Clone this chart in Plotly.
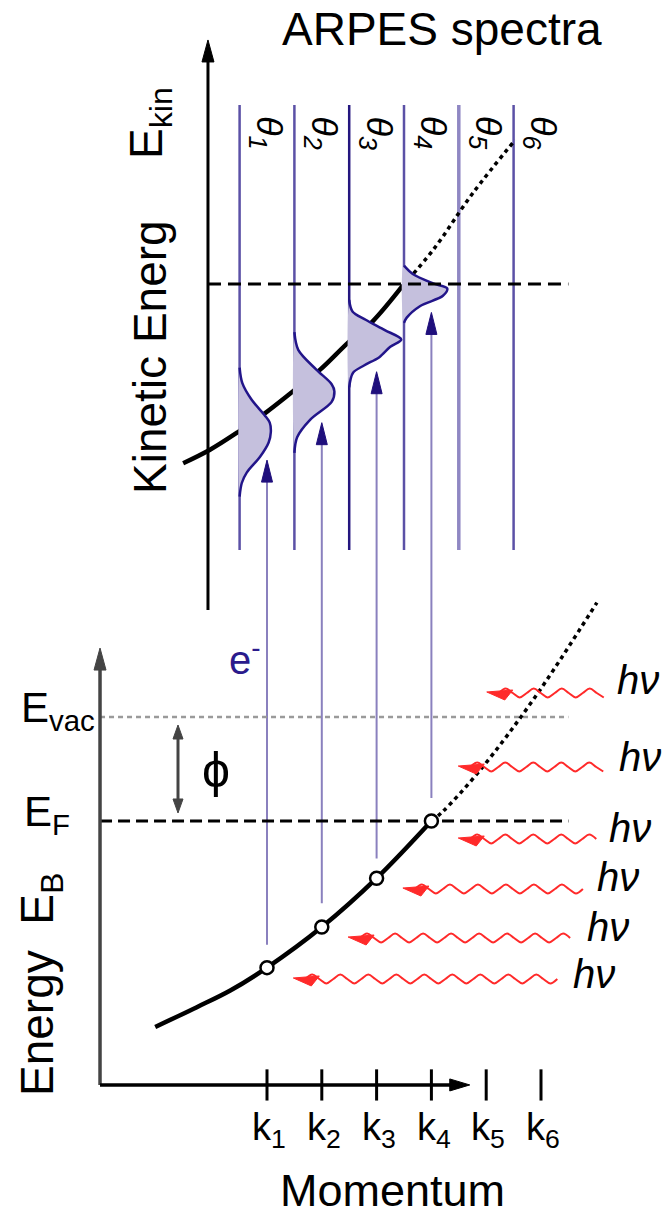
import plotly.graph_objects as go

# ---------------- data (schematic units: momentum k, energy in units of phi, E_F = 0) ----------
k_ticks = [1, 2, 3, 4, 5, 6]
k_labels = ["k<sub>1</sub>", "k<sub>2</sub>", "k<sub>3</sub>", "k<sub>4</sub>", "k<sub>5</sub>", "k<sub>6</sub>"]
theta_labels = ["θ<sub>1</sub>", "θ<sub>2</sub>", "θ<sub>3</sub>", "θ<sub>4</sub>", "θ<sub>5</sub>", "θ<sub>6</sub>"]

E_F = 0.0
E_vac = 1.0
E_F_kin = 5.163          # Fermi level as seen in the kinetic-energy spectra

# band dispersion in the sample (bottom panel)
band_k = [-1.04, -0.28, 0.33, 1.0, 2.0, 3.0, 4.0]
band_E = [-1.98, -1.79, -1.63, -1.41, -1.02, -0.55, 0.0]
band_unocc_k = [4.0, 4.2, 4.89, 5.89, 7.02]
band_unocc_E = [0.0, 0.087, 0.49, 1.19, 2.10]

# measured points k1..k4
meas_k = [1, 2, 3, 4]
meas_E = [-1.41, -1.02, -0.55, 0.0]

# band as mapped into kinetic energy (top panel)
top_band_k = [-0.53, -0.04, 0.47, 0.96, 1.47, 1.97, 2.48, 2.92, 3.48]
top_band_E = [3.44, 3.57, 3.74, 3.92, 4.13, 4.34, 4.60, 4.80, 5.15]
top_unocc_k = [3.48, 4.03, 4.76, 5.53]
top_unocc_E = [5.15, 5.49, 6.04, 6.55]

# spectra (EDC) baselines at each emission angle
spec_x = [0.5, 1.5, 2.5, 3.5, 4.5, 5.5]
spec_E_low, spec_E_high = 2.606, 6.885
spec_colors = ["#5b51a6", "#5b51a6", "#24167f", "#5b51a6", "#8f87c3", "#5b51a6"]
spec_widths = [2.5, 2.5, 2.5, 2.5, 3.5, 2.5]

# peak profiles (energy, intensity) of the four spectra
peak1_E = [4.36, 4.21, 4.05, 3.90, 3.83, 3.74, 3.64, 3.50, 3.35, 3.25, 3.12]
peak1_I = [0, 0.05, 0.22, 0.46, 0.55, 0.57, 0.53, 0.37, 0.13, 0.04, 0]
peak2_E = [4.70, 4.53, 4.34, 4.20, 4.13, 4.03, 3.86, 3.69, 3.54]
peak2_I = [0, 0.07, 0.40, 0.68, 0.73, 0.68, 0.29, 0.05, 0]
peak3_E = [5.01, 4.90, 4.82, 4.72, 4.63, 4.56, 4.46, 4.38, 4.31, 4.17]
peak3_I = [0, 0.06, 0.30, 0.65, 0.95, 0.75, 0.55, 0.27, 0.07, 0]
peak4_E = [5.34, 5.26, 5.17, 5.12, 5.05, 4.95, 4.84, 4.79]
peak4_I = [0, 0.16, 0.53, 0.79, 0.71, 0.29, 0.05, 0]

# photoelectron arrows from k_n up to the spectra
arrow_k = [1, 2, 3, 4]
arrow_start_E = [-1.19, -0.79, -0.36, 0.22]
arrow_tip_E = [3.47, 3.83, 4.32, 4.89]

# incoming photons (h nu)
wave_E = [1.231, 0.519, -0.173, -0.654, -1.125, -1.519]
wave_k_start = [5.01, 4.49, 4.49, 3.48, 2.48, 1.48]
wave_k_end = [7.17, 7.20, 7.02, 6.77, 6.58, 6.38]
hv_k = [7.77, 7.81, 7.62, 7.41, 7.22, 6.97]
hv_E = [1.356, 0.615, -0.067, -0.538, -1.019, -1.471]

# axes of the schematic
ax_bottom_k0, ax_bottom_E0 = -2.047, -2.538
ax_bottom_Etop, ax_bottom_kend = 1.663, 4.70
ax_top_k, ax_top_E0, ax_top_Etop = -0.077, 2.029, 7.51
level_k_end = 6.50

# ---------------- geometry of the canvas ----------------
W, H = 663, 1215
SX, SY = 54.8, 104.0            # px per unit
X0PX, Y0PX = 212.2, 821.0       # pixel of k=0 / E=0
xr = [-X0PX / SX, (W - X0PX) / SX]
yr = [(Y0PX - H) / SY, Y0PX / SY]

FONT = "Liberation Sans, Arial, sans-serif"
fig = go.Figure()


def line(xs, ys, color, width, dash="solid", shape="linear"):
    fig.add_trace(go.Scatter(x=xs, y=ys, mode="lines", hoverinfo="skip", showlegend=False,
                             line=dict(color=color, width=width, dash=dash, shape=shape)))


def head(xt, yt, ux, uy, L, Wd, color):
    # filled triangular arrow head; (ux,uy) screen direction (up positive), L/Wd in px
    bx, by = -ux * L, -uy * L
    px_, py_ = -uy * Wd / 2, ux * Wd / 2
    xs = [xt, xt + (bx + px_) / SX, xt + (bx - px_) / SX, xt]
    ys = [yt, yt + (by + py_) / SY, yt + (by - py_) / SY, yt]
    fig.add_trace(go.Scatter(x=xs, y=ys, mode="lines", fill="toself", fillcolor=color,
                             line=dict(color=color, width=1), hoverinfo="skip", showlegend=False))


def text(x, y, s, size, color="black", angle=0, xanchor="center", yanchor="middle", italic=False):
    fig.add_annotation(x=x, y=y, xref="x", yref="y", text=s, showarrow=False, textangle=angle,
                       xanchor=xanchor, yanchor=yanchor,
                       font=dict(family=FONT, size=size, color=color,
                                 style="italic" if italic else "normal"))


# ---------------- top panel: spectra ----------------
for x, c, w in zip(spec_x, spec_colors, spec_widths):
    line([x, x], [spec_E_low, spec_E_high], c, w)

line(top_band_k, top_band_E, "black", 4.5, shape="spline")
line(top_unocc_k, top_unocc_E, "black", 3.5, dash="4px,4px", shape="spline")

for x0, pE, pI in zip(spec_x[:4], [peak1_E, peak2_E, peak3_E, peak4_E],
                      [peak1_I, peak2_I, peak3_I, peak4_I]):
    xs = [x0 + v for v in pI]
    fig.add_trace(go.Scatter(x=xs + [x0], y=pE + [pE[0]], mode="lines", fill="toself",
                             fillcolor="#c5c0dd", line=dict(width=0, shape="spline", smoothing=0.9),
                             hoverinfo="skip", showlegend=False))
    fig.add_trace(go.Scatter(x=xs, y=pE, mode="lines", hoverinfo="skip", showlegend=False,
                             line=dict(color="#22158a", width=2.5, shape="spline", smoothing=0.9)))

line([ax_top_k, level_k_end], [E_F_kin, E_F_kin], "black", 3, dash="13px,7px")

# top axis
line([ax_top_k, ax_top_k], [ax_top_E0, ax_top_Etop - 0.15], "black", 3)
head(ax_top_k, ax_top_Etop, 0, 1, 22, 12, "black")

# ---------------- photoelectron arrows ----------------
for k, e0, e1 in zip(arrow_k, arrow_start_E, arrow_tip_E):
    line([k, k], [e0, e1 - 0.15], "#8a80be", 2)
    head(k, e1, 0, 1, 22, 11, "#1f0f7c")

# ---------------- bottom panel ----------------
line([ax_bottom_k0, level_k_end], [E_vac, E_vac], "#9a9a9a", 2.5, dash="5px,4px")
line([ax_bottom_k0, level_k_end], [E_F, E_F], "black", 3, dash="12px,6px")

line(band_k, band_E, "black", 4.5, shape="spline")
line(band_unocc_k, band_unocc_E, "black", 3.5, dash="4px,4px", shape="spline")
fig.add_trace(go.Scatter(x=meas_k, y=meas_E, mode="markers", hoverinfo="skip", showlegend=False,
                         marker=dict(size=13, color="white", line=dict(color="black", width=2.5))))

# photons
for e, ks, ke in zip(wave_E, wave_k_start, wave_k_end):
    step = 7.0 / SX   # quarter wavelength
    amp = 4.5 / SY
    xs, ys = [], []
    n = int((ke - ks - 12 / SX) / step)
    for i in range(n + 1):
        xs.append(ks + 12 / SX + i * step)
        ys.append(e + [0, amp, 0, -amp][i % 4])
    line(xs, ys, "#ff2a2a", 2, shape="spline")
    tri_x = [ks, ks + 26 / SX, ks + 18 / SX, ks]
    tri_y = [e + 1 / SY, e + 3 / SY, e - 7 / SY, e + 1 / SY]
    fig.add_trace(go.Scatter(x=tri_x, y=tri_y, mode="lines", fill="toself", fillcolor="#ff2a2a",
                             line=dict(color="#ff2a2a", width=1), hoverinfo="skip", showlegend=False))

# phi double arrow
phi_k = -0.624
line([phi_k, phi_k], [E_F + 0.077 + 0.1, E_vac - 0.077 - 0.1], "#444444", 3)
head(phi_k, E_vac - 0.077, 0, 1, 14, 10, "#444444")
head(phi_k, E_F + 0.077, 0, -1, 14, 10, "#444444")

# bottom axes
line([ax_bottom_k0, ax_bottom_k0], [ax_bottom_E0, ax_bottom_Etop - 0.15], "#444444", 3.5)
head(ax_bottom_k0, ax_bottom_Etop, 0, 1, 22, 12, "#444444")
line([ax_bottom_k0, ax_bottom_kend - 0.3], [ax_bottom_E0, ax_bottom_E0], "black", 3.5)
head(ax_bottom_kend, ax_bottom_E0, 1, 0, 20, 12, "black")
for k in k_ticks:
    line([k, k], [ax_bottom_E0 - 0.15, ax_bottom_E0 + 0.15], "black", 3)

# ---------------- texts ----------------
text(4.19, 7.615, "ARPES spectra", 46)
text(-1.135, 6.712, "E<sub>kin</sub>", 46, angle=-90)
text(-1.135, 4.462, "Kinetic Energ", 46, angle=-90)
for k, s in zip(k_ticks, theta_labels):
    text(k, 6.615, s, 36, angle=90, italic=True)
text(-2.10, 1.067, "E<sub>vac</sub>", 42, xanchor="right")
text(-2.56, 0.058, "E<sub>F</sub>", 42, xanchor="right")
text(0.069, 0.49, "ϕ", 50)
text(0.60, 1.577, "e<sup>-</sup>", 40, color="#2b1b8c")
text(-3.142, -1.577, "Energy\u00a0\u00a0E<sub>B</sub>", 46, angle=-90)
for k, s in zip(k_ticks, k_labels):
    text(k + 0.04, -2.971, s, 38)
text(3.285, -3.55, "Momentum", 45)
for k, e in zip(hv_k, hv_E):
    text(k, e, "hν", 40, italic=True)

fig.update_layout(
    width=W, height=H, autosize=False,
    margin=dict(l=0, r=0, t=0, b=0, pad=0),
    paper_bgcolor="white", plot_bgcolor="white",
    xaxis=dict(range=xr, visible=False, fixedrange=True),
    yaxis=dict(range=yr, visible=False, fixedrange=True),
)

fig.write_html("out.html", config={"displayModeBar": False},
               post_script="document.body.style.margin='0';")
